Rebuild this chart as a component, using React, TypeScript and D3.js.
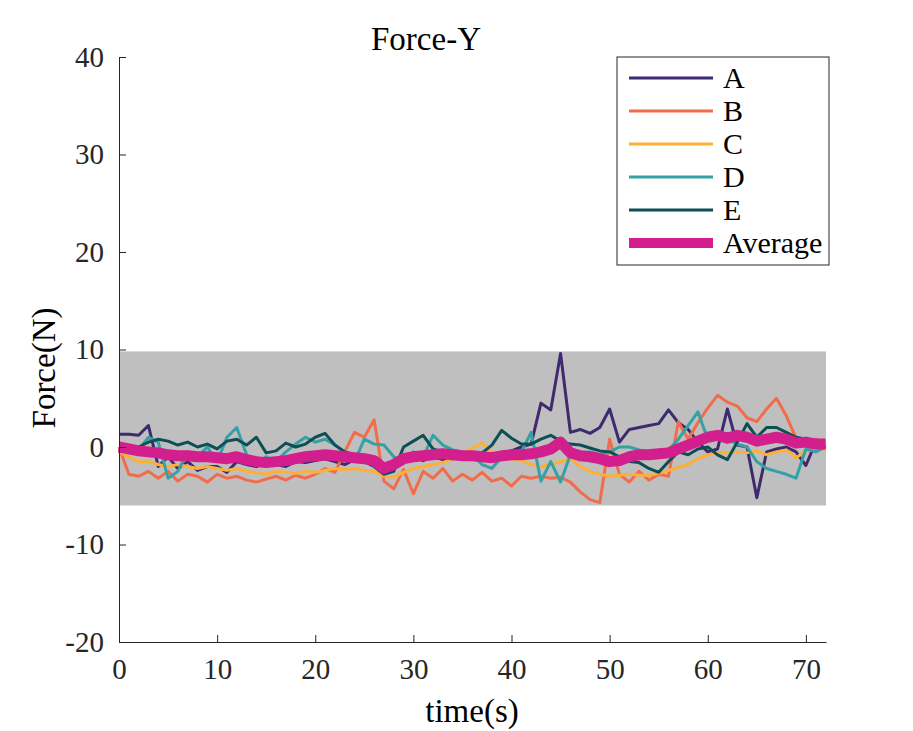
import * as d3 from "d3";
import { useEffect, useRef } from "react";

// time grid (s)
const time = d3.range(0, 73);

const seriesA = [1.3, 1.3, 1.2, 2.2, -2.0, -1.0, -2.2, -1.5, -2.4, -2.0, -2.0, -2.6, -1.5, -1.8, -2.0, -1.6, -1.8, -2.0, -1.5, -1.6,
    -1.4, -1.2, -1.5, -1.8, -1.3, -1.6, -1.2, -1.8, -1.5, -1.2, -1.0, -1.4, -1.0, -1.3, -1.2, -1.0, -1.1, -1.0, -0.8, -0.6,
    -0.4, 0.0, 0.3, 4.5, 3.8, 9.6, 1.5, 1.8, 1.4, 2.0, 3.9, 0.5, 1.8, 2.0, 2.2, 2.4, 3.8, 2.5, 1.8, 0.5,
    -0.5, -0.2, 3.9, 0.2, 0.0, -5.2, -0.5, -0.2, 0.0, -0.5, -1.9, 0.5, -0.2];
const seriesB = [0.0, -2.8, -3.0, -2.5, -3.2, -2.5, -3.5, -2.8, -3.0, -3.6, -2.8, -3.2, -3.0, -3.4, -3.6, -3.3, -3.0, -3.4, -2.9, -3.2,
    -2.8, -2.2, -2.6, -0.5, 1.5, 1.0, 2.8, -3.5, -4.3, -2.3, -4.8, -2.5, -3.2, -2.2, -3.5, -2.8, -3.4, -2.6, -3.5, -3.2,
    -4.0, -3.0, -3.2, -3.0, -3.2, -3.1, -3.6, -4.6, -5.4, -5.7, 0.8, -2.8, -3.6, -2.5, -3.4, -2.8, -3.0, 2.6, 0.8, 2.5,
    4.0, 5.3, 4.6, 4.2, 3.0, 2.6, 3.9, 5.0, 3.2, 0.9, 0.4, 0.8, 0.5];
const seriesC = [-0.5, -1.0, -1.5, -1.5, -1.8, -2.0, -1.8, -2.0, -2.2, -2.0, -2.2, -2.4, -2.2, -2.5, -2.6, -2.8, -2.5, -2.6, -2.7, -2.5,
    -2.6, -2.4, -2.2, -2.3, -2.2, -2.4, -2.5, -3.0, -3.1, -2.6, -2.2, -2.0, -1.8, -1.6, -1.2, -0.6, -0.1, 0.4, -0.5, -1.0,
    -1.2, -1.4, -1.8, -2.0, -1.8, -1.5, -1.2, -2.0, -2.5, -2.8, -3.0, -2.9, -2.8, -2.9, -2.9, -2.7, -2.4, -2.1, -1.8, -1.2,
    -0.8, -0.6, -0.6, -0.5, -0.6, -0.4, -0.8, -0.5, -0.3, -1.1, -0.4, -0.3, -0.2];
const seriesD = [0.0, 0.0, -0.3, 1.0, 0.5, -3.2, -2.5, -0.5, -1.0, 0.0, -1.5, 1.0, 2.0, -0.8, -1.8, -1.0, -1.5, -0.5, 0.3, 1.0,
    0.5, 0.8, 0.2, -0.5, -1.5, 0.8, 0.3, 0.2, -1.0, -1.5, -0.5, -1.0, 1.2, 0.2, -0.3, -0.5, -0.8, -1.8, -2.2, -1.0,
    -0.8, -0.5, 1.5, -3.5, -1.5, -3.6, -0.8, -0.6, -0.5, -0.8, -0.5, 0.0, 0.0, -0.3, -0.5, -0.6, -0.3, 0.8, 2.2, 3.6,
    0.8, 1.0, 0.8, 0.3, 0.0, -1.5, -2.2, -2.5, -2.8, -3.2, -0.2, -0.5, 0.0];
const seriesE = [0.0, 0.0, 0.0, 0.5, 0.8, 0.6, 0.2, 0.5, 0.0, 0.3, -0.2, 0.6, 0.8, 0.2, 1.0, -0.6, -0.4, 0.4, 0.0, 0.3,
    1.0, 1.4, 0.2, -0.5, -0.8, -1.5, -2.0, -2.8, -2.5, 0.0, 0.6, 1.2, -0.2, -0.5, -0.8, -1.0, -0.8, -0.6, 0.2, 1.7,
    0.9, 0.3, 0.3, 0.8, 1.2, 0.6, 0.3, 0.2, -0.1, -0.4, -0.5, -1.0, -1.5, -1.6, -2.2, -2.6, -1.5, -0.5, -0.8, -0.2,
    0.0, -0.8, -1.3, 0.5, 2.4, 1.0, 2.0, 2.0, 1.5, 1.0, 0.8, 0.5, 0.0];
const seriesAvg = [0.0, -0.2, -0.4, -0.5, -0.6, -0.8, -0.9, -0.9, -1.0, -1.0, -1.1, -1.2, -1.0, -1.3, -1.5, -1.6, -1.5, -1.4, -1.2, -1.0,
    -0.9, -0.8, -0.9, -1.0, -1.1, -1.2, -1.4, -2.2, -1.8, -1.2, -1.0, -0.9, -0.8, -0.7, -0.8, -0.9, -0.9, -1.0, -1.1, -0.9,
    -0.8, -0.8, -0.7, -0.5, -0.2, 0.5, -0.6, -0.9, -1.0, -1.2, -1.5, -1.4, -1.0, -0.8, -0.8, -0.7, -0.6, -0.2, 0.2, 0.6,
    1.0, 1.2, 0.9, 1.2, 1.0, 0.6, 0.8, 1.0, 0.8, 0.4, 0.5, 0.3, 0.3];

const seriesNames = ["A", "B", "C", "D", "E", "Average"];
const seriesValues = [seriesA, seriesB, seriesC, seriesD, seriesE, seriesAvg];
const colors = ["#3f2a70", "#f26c4b", "#fdb035", "#34a1a6", "#0e4e55", "#d21f8d"];
const widths = [3, 3, 3, 3, 3, 11];

const xTicks = [0, 10, 20, 30, 40, 50, 60, 70];
const yTicks = [-20, -10, 0, 10, 20, 30, 40];
const band = [-6, 9.8]; // shaded range

const App = () => {
    const width = 913;
    const height = 731;
    const marginLeft = 119;
    const marginTop = 57;
    const plotW = 707;
    const plotH = 585;
    const font = "'Liberation Serif', 'Times New Roman', serif";

    const gx = useRef(null);
    const gy = useRef(null);

    const x = d3.scaleLinear().domain([0, 72.05]).range([0, plotW]);
    const y = d3.scaleLinear().domain([-20, 40]).range([plotH, 0]);

    const line = d3.line<number>().x((_, i) => x(time[i])).y(d => y(d));

    useEffect(() => {
        d3.select(gx.current)
            .call(d3.axisBottom(x).tickValues(xTicks).tickFormat(d => String(d)).tickSizeInner(-7).tickSizeOuter(0).tickPadding(16))
            .call(g => g.select(".domain").attr("stroke", "#262626"))
            .call(g => g.selectAll(".tick line").attr("stroke", "#262626"))
            .call(g => g.selectAll(".tick text").attr("fill", "#262626").attr("font-size", 29).attr("font-family", font));
        d3.select(gy.current)
            .call(d3.axisLeft(y).tickValues(yTicks).tickFormat(d => String(d)).tickSizeInner(-7).tickSizeOuter(0).tickPadding(15))
            .call(g => g.select(".domain").attr("stroke", "#262626"))
            .call(g => g.selectAll(".tick line").attr("stroke", "#262626"))
            .call(g => g.selectAll(".tick text").attr("fill", "#262626").attr("font-size", 29).attr("font-family", font));
    }, []);

    return (
        <svg width={width} height={height} style={{ position: "absolute", left: 0, top: 0, background: "#fff" }}>
            <g transform={`translate(${marginLeft},${marginTop})`}>
                <rect x={0} y={y(band[1])} width={plotW} height={y(band[0]) - y(band[1])} fill="#bfbfbf" />
                {seriesValues.map((s, i) => (
                    <path key={i} d={line(s) ?? ""} fill="none" stroke={colors[i]} strokeWidth={widths[i]} strokeLinejoin="round" />
                ))}
                <g ref={gx} transform={`translate(0,${plotH})`} />
                <g ref={gy} />
            </g>
            <text x={426} y={50} textAnchor="middle" fontFamily={font} fontSize={33} fill="#000">Force-Y</text>
            <text x={472} y={722} textAnchor="middle" fontFamily={font} fontSize={33} fill="#000">time(s)</text>
            <text transform={`translate(55,368) rotate(-90)`} textAnchor="middle" fontFamily={font} fontSize={33} fill="#000">Force(N)</text>
            <g transform="translate(617,57)">
                <rect x={0} y={0} width={212} height={208} fill="#fff" stroke="#262626" strokeWidth={1} />
                {seriesNames.map((n, i) => (
                    <g key={n} transform={`translate(0,${21 + i * 33})`}>
                        <line x1={12} x2={96} y1={0} y2={0} stroke={colors[i]} strokeWidth={widths[i] === 3 ? 3 : 10} />
                        <text x={106} y={0} dy="0.33em" fontFamily={font} fontSize={30} fill="#000">{n}</text>
                    </g>
                ))}
            </g>
        </svg>
    );
};

export default App;
